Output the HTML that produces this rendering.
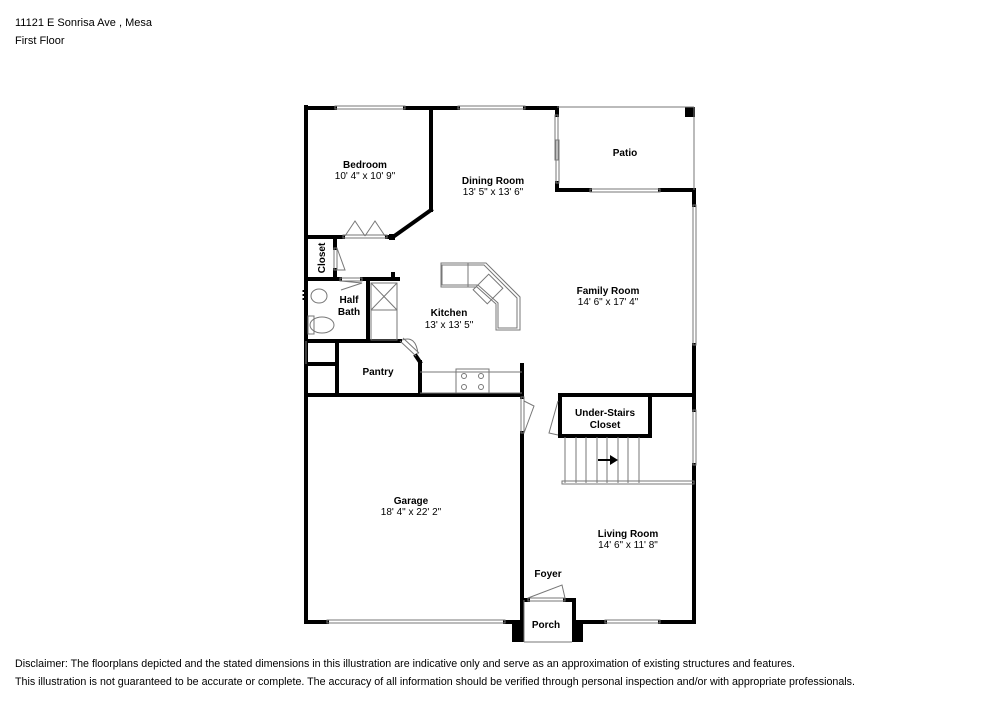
<!DOCTYPE html>
<html><head><meta charset="utf-8"><style>
html,body{margin:0;padding:0;background:#fff;width:1000px;height:707px;overflow:hidden}
svg{display:block}
text{font-family:"Liberation Sans",Arial,sans-serif;fill:#000}
.b{font-weight:bold;font-size:10px}
.d{font-size:10px}
</style></head><body>
<svg width="1000" height="707" viewBox="0 0 1000 707">
<text x="15" y="26" font-size="11">11121 E Sonrisa Ave , Mesa</text>
<text x="15" y="44" font-size="11">First Floor</text>

<g stroke="#000" stroke-width="4" fill="none" stroke-linecap="square">
<!-- outer left -->
<line x1="306" y1="107" x2="306" y2="622"/>
<!-- top -->
<line x1="306" y1="108" x2="335" y2="108"/>
<line x1="405" y1="108" x2="458" y2="108"/>
<line x1="525" y1="108" x2="557" y2="108"/>
<line x1="557" y1="108" x2="557" y2="115"/>
<line x1="557" y1="183" x2="557" y2="190"/>
<!-- patio bottom -->
<line x1="557" y1="190" x2="590" y2="190"/>
<line x1="660" y1="190" x2="694" y2="190"/>
<!-- right -->
<line x1="694" y1="190" x2="694" y2="205"/>
<line x1="694" y1="345" x2="694" y2="410"/>
<line x1="694" y1="465" x2="694" y2="622"/>
<!-- bottom -->
<line x1="306" y1="622" x2="327" y2="622"/>
<line x1="505" y1="622" x2="522" y2="622"/>
<line x1="583" y1="622" x2="605" y2="622"/>
<line x1="660" y1="622" x2="694" y2="622"/>
<!-- bedroom -->
<line x1="431" y1="108" x2="431" y2="210"/>
<line x1="431" y1="210" x2="393" y2="237"/>
<line x1="306" y1="237" x2="343" y2="237"/>
<line x1="387" y1="237" x2="393" y2="237"/>
<!-- closet -->
<line x1="335" y1="237" x2="335" y2="248"/>
<line x1="335" y1="270" x2="335" y2="278"/>
<line x1="306" y1="279" x2="340" y2="279"/>
<line x1="362" y1="279" x2="398" y2="279"/>
<line x1="393" y1="274" x2="393" y2="279"/>
<!-- half bath / shower -->
<line x1="368" y1="280" x2="368" y2="340"/>
<line x1="306" y1="341" x2="337" y2="341"/>
<!-- pantry -->
<line x1="337" y1="341" x2="400" y2="341"/>
<line x1="337" y1="341" x2="337" y2="395"/>
<line x1="416" y1="356" x2="420" y2="362"/>
<line x1="420" y1="362" x2="420" y2="395"/>
<line x1="306" y1="364" x2="335" y2="364"/>
<!-- garage top -->
<line x1="306" y1="395" x2="522" y2="395"/>
<line x1="522" y1="365" x2="522" y2="397"/>
<line x1="522" y1="433" x2="522" y2="622"/>
<!-- under stairs -->
<line x1="560" y1="395" x2="694" y2="395"/>
<rect x="560" y="395" width="90" height="41" stroke-width="4"/>
<!-- porch -->
<line x1="522" y1="600" x2="528" y2="600"/>
<line x1="565" y1="600" x2="574" y2="600"/>
<line x1="574" y1="600" x2="574" y2="622"/>
</g>
<!-- thick blocks -->
<rect x="685" y="107" width="10" height="10" fill="#000"/>
<rect x="512" y="620" width="12" height="22" fill="#000"/>
<rect x="572" y="620" width="11" height="22" fill="#000"/>
<rect x="389" y="234" width="6" height="6" fill="#000"/>

<g stroke="#777" stroke-width="1" fill="none">
<!-- windows -->
<rect x="335" y="106" width="70" height="3"/>
<rect x="458" y="106" width="67" height="3"/>
<line x1="557" y1="107" x2="694" y2="107"/>
<line x1="694" y1="107" x2="694" y2="190"/>
<rect x="555" y="115" width="3" height="45"/>
<rect x="556" y="140" width="3" height="43"/>
<rect x="590" y="189" width="70" height="3"/>
<rect x="693" y="205" width="3" height="140"/>
<rect x="693" y="410" width="3" height="55"/>
<rect x="327" y="620" width="178" height="3"/>
<rect x="605" y="620" width="55" height="3"/>
<line x1="524" y1="642" x2="572" y2="642"/>
<line x1="524" y1="600" x2="524" y2="642"/>
<!-- bedroom doors -->
<rect x="343" y="235" width="44" height="3"/>
<path d="M345 236 L355 221 L365 236 M365 236 L375 221 L385 236"/>
<!-- closet door -->
<rect x="334" y="248" width="3" height="22"/>
<path d="M337 248 L345 270 L337 270"/>
<!-- bath door -->
<rect x="340" y="278" width="22" height="3"/>
<path d="M341 281 L362 283 L341 290"/>
<!-- shower -->
<rect x="371" y="283" width="26" height="27"/>
<path d="M371 283 L397 310 M397 283 L371 310"/>
<rect x="371" y="310" width="26" height="30"/>
<!-- sink & toilet -->
<ellipse cx="319" cy="296" rx="8" ry="7"/>
<ellipse cx="322" cy="325" rx="12" ry="8"/>
<rect x="308" y="316" width="6" height="18"/>
<line x1="306" y1="341" x2="306" y2="364"/>
<!-- pantry door -->
<path d="M400 341 L416 356 M403 338 L419 353 M402 340 Q416 335 418 354"/>
<!-- kitchen island -->
<path d="M441 263 L486 263 L520 297 L520 330 L496 330 L496 304 L477 287 L441 287 Z M442 265 L484 265 L517 298 L517 328 L498 328 L498 303 L478 285 L442 285 Z"/>
<line x1="468" y1="263" x2="468" y2="287"/>
<rect x="478" y="278" width="20" height="22" transform="rotate(45 488 289)"/>
<!-- counter -->
<path d="M420 372 L522 372 M420 393 L522 393"/>
<rect x="456" y="369" width="33" height="24"/>
<circle cx="464" cy="376" r="2.5"/><circle cx="481" cy="376" r="2.5"/>
<circle cx="464" cy="387" r="2.5"/><circle cx="481" cy="387" r="2.5"/>
<!-- garage door -->
<rect x="521" y="397" width="3" height="36"/>
<path d="M524 401 L534 406 L524 433"/>
<!-- understairs door -->
<path d="M558 401 L549 433 L558 435"/>
<!-- stairs -->
<path d="M565 437 L565 483 M576 437 L576 483 M586 437 L586 483 M597 437 L597 483 M607 437 L607 483 M618 437 L618 483 M628 437 L628 483 M639 437 L639 483"/>
<rect x="562" y="481" width="132" height="3"/>
<!-- foyer door -->
<rect x="528" y="598" width="37" height="3"/>
<path d="M528 598 L562 585 L565 598"/>
</g>
<path d="M598 460 L612 460" stroke="#000" stroke-width="2"/>
<path d="M610 455 L618 460 L610 465 Z" fill="#000"/>
<line x1="304" y1="290" x2="304" y2="302" stroke="#000" stroke-width="3" stroke-dasharray="2,2"/>

<g text-anchor="middle">
<text class="b" x="365" y="168">Bedroom</text>
<text class="d" x="365" y="179">10' 4" x 10' 9"</text>
<text class="b" x="493" y="184">Dining Room</text>
<text class="d" x="493" y="195">13' 5" x 13' 6"</text>
<text class="b" x="625" y="156">Patio</text>
<text class="b" x="608" y="294">Family Room</text>
<text class="d" x="608" y="305">14' 6" x 17' 4"</text>
<text class="b" x="449" y="316">Kitchen</text>
<text class="d" x="449" y="328">13' x 13' 5"</text>
<text class="b" x="349" y="303">Half</text>
<text class="b" x="349" y="315">Bath</text>
<text class="b" x="378" y="375">Pantry</text>
<text class="b" x="605" y="416">Under-Stairs</text>
<text class="b" x="605" y="428">Closet</text>
<text class="b" x="411" y="504">Garage</text>
<text class="d" x="411" y="515">18' 4" x 22' 2"</text>
<text class="b" x="628" y="537">Living Room</text>
<text class="d" x="628" y="548">14' 6" x 11' 8"</text>
<text class="b" x="548" y="577">Foyer</text>
<text class="b" x="546" y="628">Porch</text>
<text class="b" x="0" y="0" transform="translate(325,258) rotate(-90)">Closet</text>
</g>

<text x="15" y="667" font-size="11" textLength="780" lengthAdjust="spacingAndGlyphs">Disclaimer: The floorplans depicted and the stated dimensions in this illustration are indicative only and serve as an approximation of existing structures and features.</text>
<text x="15" y="685" font-size="11" textLength="840" lengthAdjust="spacingAndGlyphs">This illustration is not guaranteed to be accurate or complete. The accuracy of all information should be verified through personal inspection and/or with appropriate professionals.</text>
</svg>
</body></html>
